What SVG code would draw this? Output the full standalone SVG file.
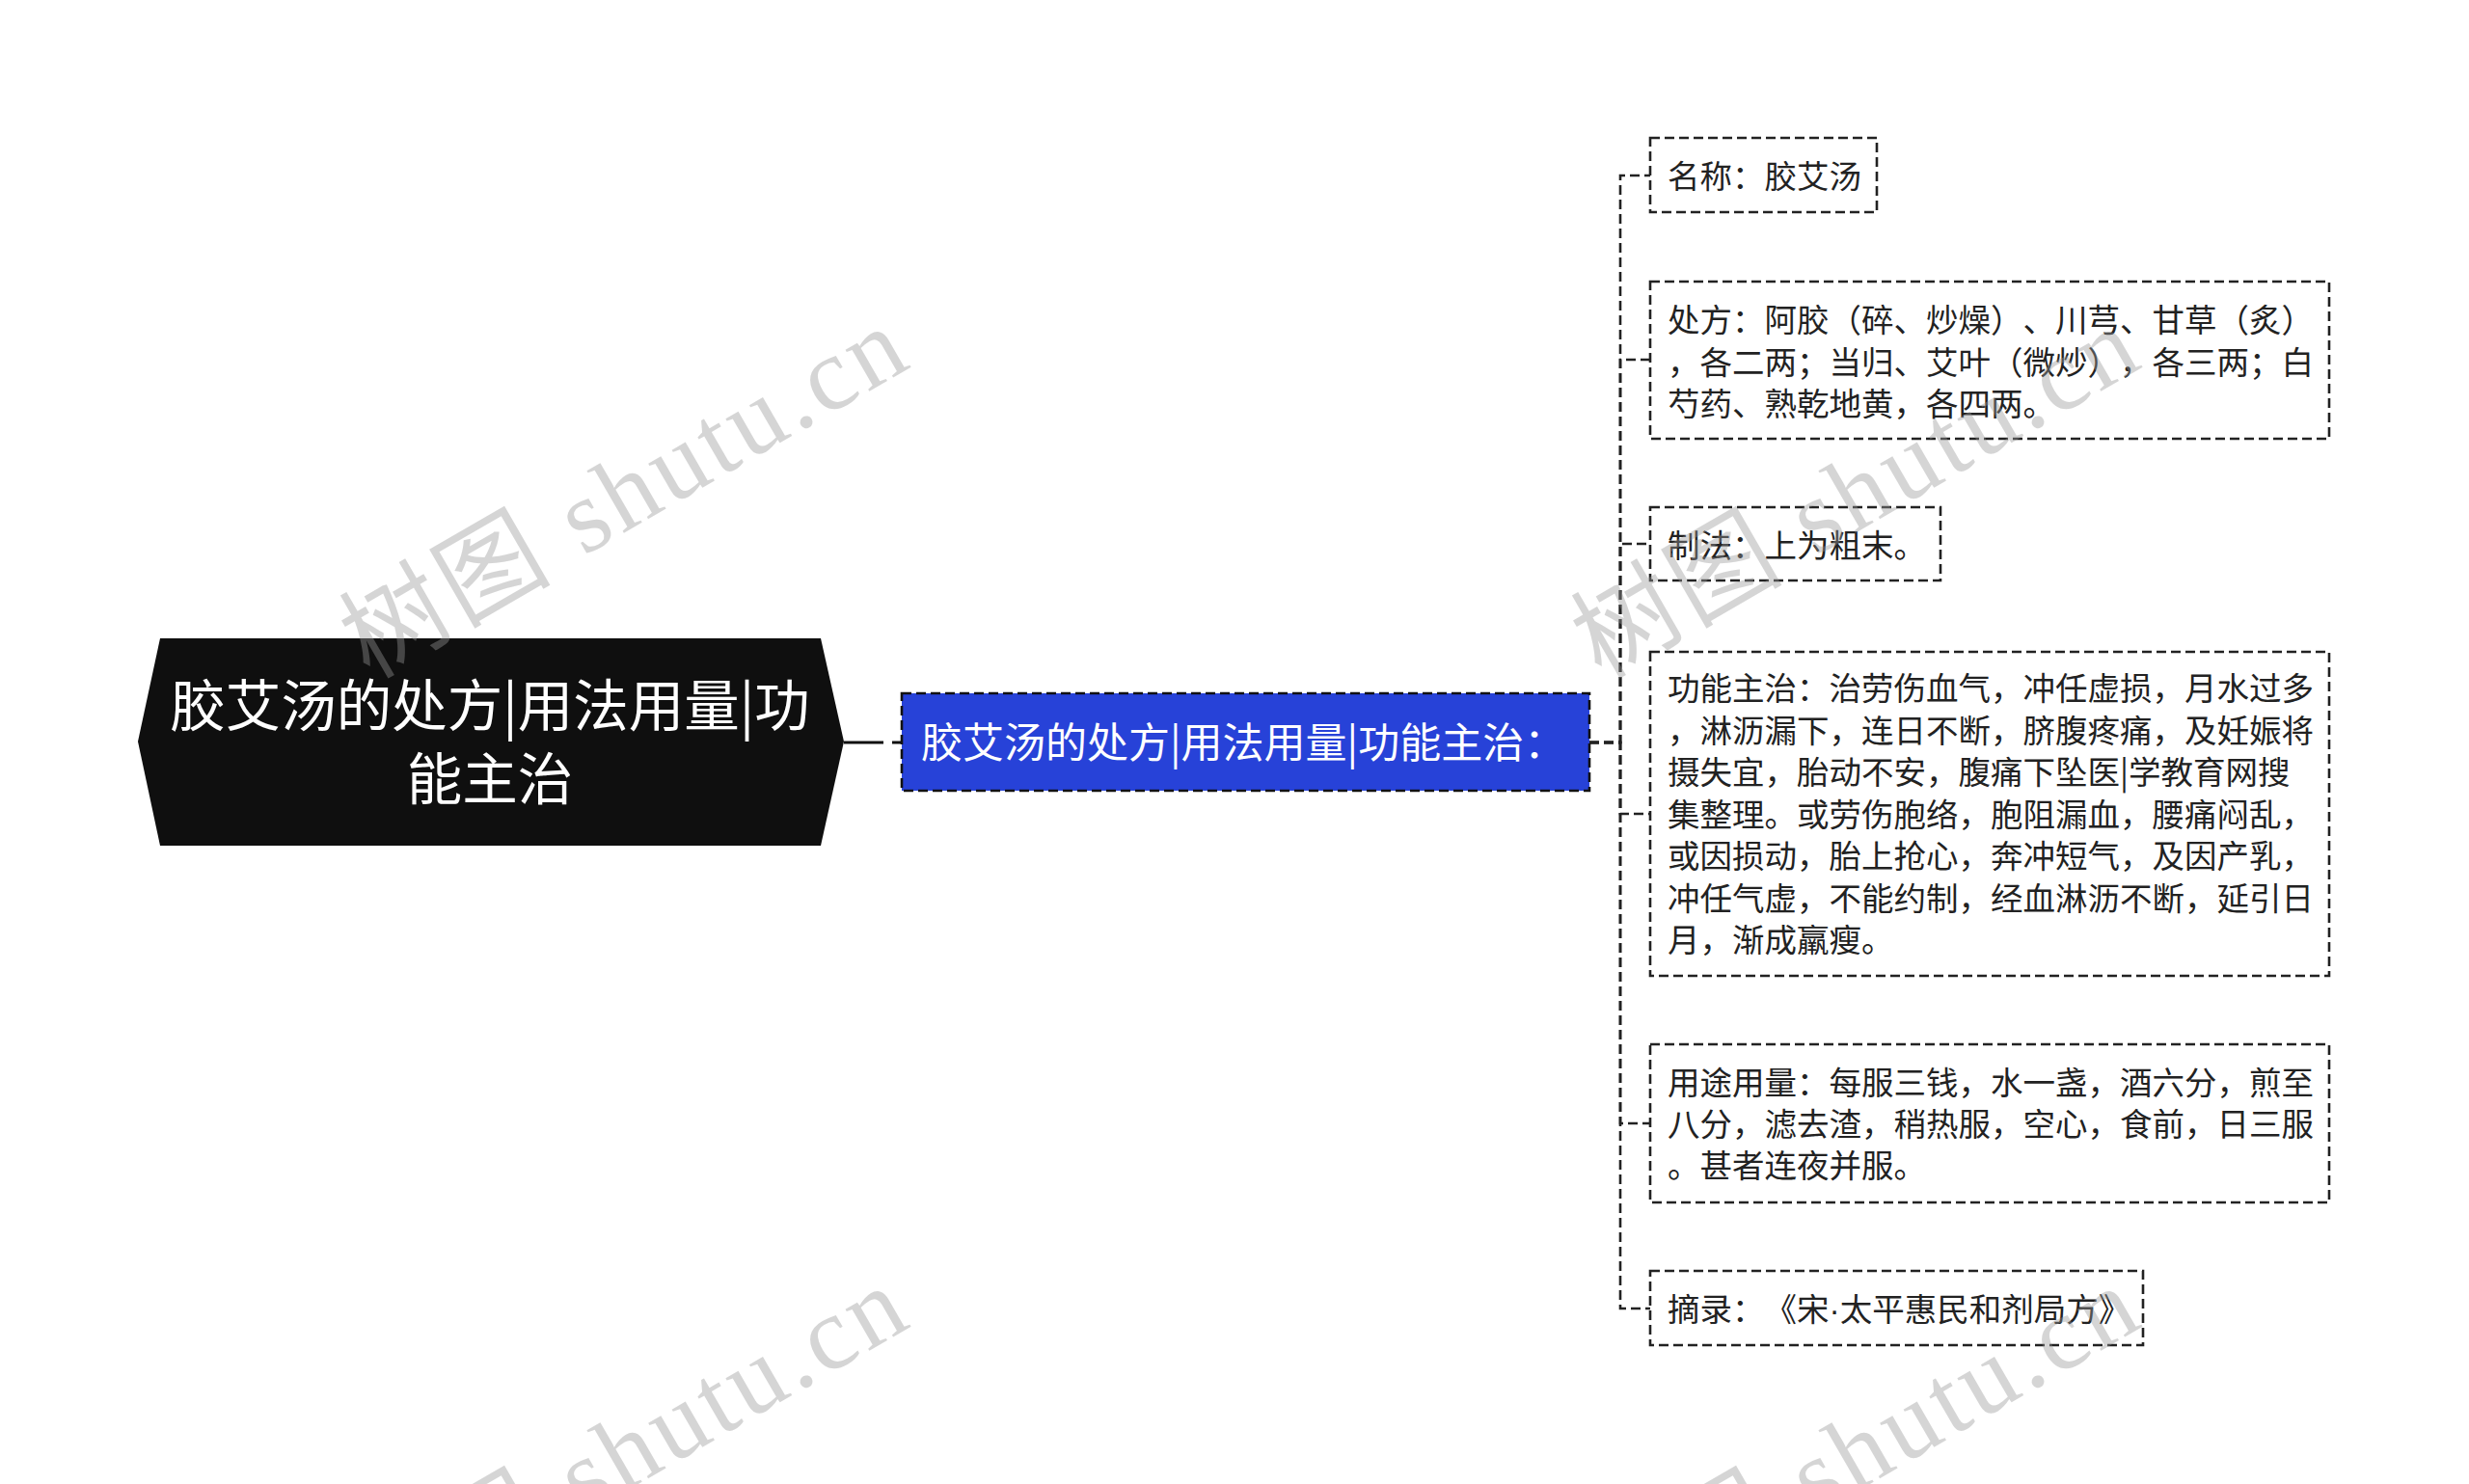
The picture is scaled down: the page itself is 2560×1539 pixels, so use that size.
<svg xmlns="http://www.w3.org/2000/svg" width="2560" height="1539" viewBox="0 0 2560 1539">
<style>
text{text-spacing-trim:space-all}
.bg{fill:#ffffff}
.root{fill:#0f0f0f}
.rt{font-family:"Noto Sans CJK SC","Noto Sans",sans-serif;font-size:57.5px;fill:#ffffff;text-anchor:middle}
.mid{fill:#2742d8;stroke:#111;stroke-width:2.6;stroke-dasharray:10 5}
.mt{font-family:"Noto Sans CJK SC","Noto Sans",sans-serif;font-size:43px;fill:#ffffff}
.leaf{fill:#ffffff;stroke:#222;stroke-width:2.6;stroke-dasharray:10 5}
.lt{font-family:"Noto Sans CJK SC","Noto Sans",sans-serif;font-size:33.5px;fill:#222222}
.dot{font-family:"Liberation Sans",sans-serif}
.con{fill:none;stroke:#222;stroke-width:2.6;stroke-dasharray:10 5}
.wm{font-family:"Liberation Serif","Noto Sans CJK SC",serif;font-size:108px;fill:#999999;opacity:0.4}
</style>
<rect class="bg" x="0" y="0" width="2560" height="1539"/>
<g id="connectors">
<path d="M875,770 H935" fill="none" stroke="#111" stroke-width="3" stroke-dasharray="41 9 10 5"/>
<path class="con" d="M1648,770 H1680 V182 H1711"/>
<path class="con" d="M1648,770 H1680 V373 H1711"/>
<path class="con" d="M1648,770 H1680 V564 H1711"/>
<path class="con" d="M1648,770 H1680 V844 H1711"/>
<path class="con" d="M1648,770 H1680 V1165 H1711"/>
<path class="con" d="M1648,770 H1680 V1357 H1711"/>
</g>
<g id="root">
<polygon class="root" points="143,769 166,662 851,662 875,769 851,877 166,877"/>
<text class="rt" x="508" y="753">胶艾汤的处方|用法用量|功</text>
<text class="rt" x="508" y="829">能主治</text>
</g>
<g id="main">
<rect class="mid" x="935" y="719" width="713" height="101"/>
<text class="mt" x="955" y="786">胶艾汤的处方|用法用量|功能主治：</text>
</g>
<g id="n1">
<rect class="leaf" x="1711" y="143" width="235" height="77"/>
<text class="lt" x="1729" y="195">名称：胶艾汤</text>
</g>
<g id="n2">
<rect class="leaf" x="1711" y="292" width="704" height="163"/>
<text class="lt" x="1729" y="344">处方：阿胶（碎、炒燥）、川芎、甘草（炙）</text>
<text class="lt" x="1729" y="387.5">，各二两；当归、艾叶（微炒），各三两；白</text>
<text class="lt" x="1729" y="431">芍药、熟乾地黄，各四两。</text>
</g>
<g id="n3">
<rect class="leaf" x="1711" y="526" width="301" height="76"/>
<text class="lt" x="1729" y="578">制法：上为粗末。</text>
</g>
<g id="n4">
<rect class="leaf" x="1711" y="676" width="704" height="336"/>
<text class="lt" x="1729" y="726">功能主治：治劳伤血气，冲任虚损，月水过多</text>
<text class="lt" x="1729" y="769.5">，淋沥漏下，连日不断，脐腹疼痛，及妊娠将</text>
<text class="lt" x="1729" y="813">摄失宜，胎动不安，腹痛下坠医|学教育网搜</text>
<text class="lt" x="1729" y="856.5">集整理。或劳伤胞络，胞阻漏血，腰痛闷乱，</text>
<text class="lt" x="1729" y="900">或因损动，胎上抢心，奔冲短气，及因产乳，</text>
<text class="lt" x="1729" y="943.5">冲任气虚，不能约制，经血淋沥不断，延引日</text>
<text class="lt" x="1729" y="987">月，渐成羸瘦。</text>
</g>
<g id="n5">
<rect class="leaf" x="1711" y="1083" width="704" height="164"/>
<text class="lt" x="1729" y="1135">用途用量：每服三钱，水一盏，酒六分，煎至</text>
<text class="lt" x="1729" y="1178">八分，滤去渣，稍热服，空心，食前，日三服</text>
<text class="lt" x="1729" y="1221">。甚者连夜并服。</text>
</g>
<g id="n6">
<rect class="leaf" x="1711" y="1318" width="511" height="77"/>
<text class="lt" x="1729" y="1370">摘录：《宋<tspan class="dot">·</tspan>太平惠民和剂局方》</text>
</g>
<g id="watermarks">
<text class="wm" transform="translate(383,705) rotate(-30)" textLength="650" lengthAdjust="spacing">树图 shutu.cn</text>
<text class="wm" transform="translate(1660,705) rotate(-30)" textLength="650" lengthAdjust="spacing">树图 shutu.cn</text>
<text class="wm" transform="translate(383,1700) rotate(-30)" textLength="650" lengthAdjust="spacing">树图 shutu.cn</text>
<text class="wm" transform="translate(1660,1700) rotate(-30)" textLength="650" lengthAdjust="spacing">树图 shutu.cn</text>
</g>
</svg>
